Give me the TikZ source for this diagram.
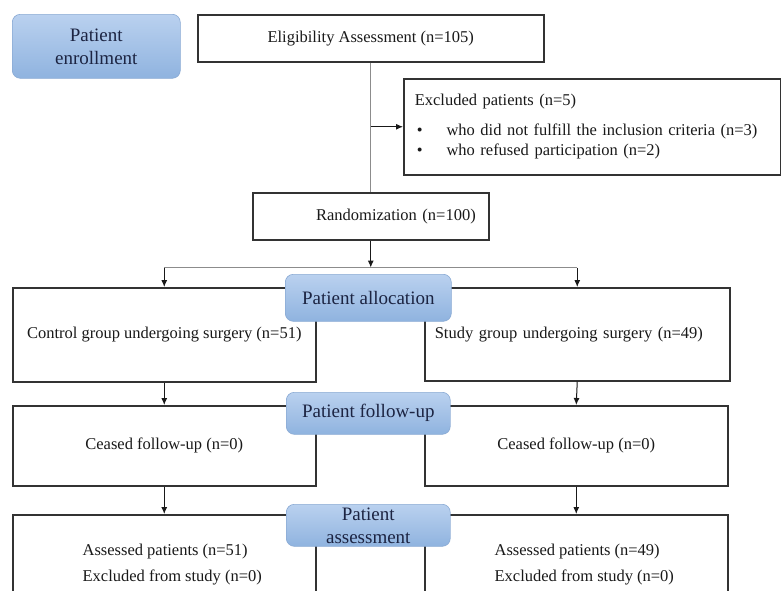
\documentclass[tikz,border=0pt]{standalone}
\usepackage{fontspec}
\setmainfont{Liberation Serif}
\usepackage{xcolor}
\definecolor{phasetop}{HTML}{BAD1EF}
\definecolor{phasebottom}{HTML}{8FB3DF}
\definecolor{phaseedge}{HTML}{8AAAD4}
\definecolor{phasetext}{HTML}{1C2442}
\definecolor{boxedge}{HTML}{333333}
\definecolor{linkgray}{HTML}{8C8C8C}
\usetikzlibrary{shapes,arrows.meta,positioning,calc}
\tikzstyle{block} = [rectangle, draw=boxedge, line width=1.5pt, fill=white,
text=black!90, anchor=north west, inner sep=0pt, align=center]
\tikzstyle{phase} = [rectangle, rounded corners=8pt, draw=phaseedge, line width=0.6pt,
top color=phasetop, bottom color=phasebottom, text=phasetext, anchor=north west,
inner sep=0pt, align=center, font=\fontsize{19}{23}\selectfont]
\tikzstyle{line} = [draw, black!90, line width=1pt, -{Latex[length=7pt, width=6pt]}]
\tikzstyle{grayline} = [draw, linkgray, line width=1pt]

\begin{document}
\begin{tikzpicture}[x=1pt, y=-1pt, font=\fontsize{16.5}{20}\selectfont]
    \useasboundingbox (0,0) rectangle (781,590);
    \clip (0,0) rectangle (781,590);

    % Boxes
    \node [block, minimum width=346pt, minimum height=47pt] (elig) at (197,14) {Eligibility Assessment (n=105)};
    \node [block, minimum width=377pt, minimum height=96pt, text width=355pt, inner xsep=11pt, align=left] (excluded) at (403,78)
        {Excluded patients (n=5)\\[10pt]
         \hspace*{2pt}\textbullet\hspace{24pt}who did not fulfill the inclusion criteria (n=3)\\
         \hspace*{2pt}\textbullet\hspace{24pt}who refused participation (n=2)};
    \node [block, minimum width=236pt, minimum height=47pt, text width=210pt, inner xsep=13pt, align=right] (random) at (252,192) {Randomization (n=100)};

    \node [block, minimum width=303pt, minimum height=94pt] (control) at (12,287) {Control group undergoing surgery (n=51)};
    \node [block, minimum width=305pt, minimum height=93pt, text width=285pt, inner xsep=10pt, align=left] (study) at (424,287) {Study group undergoing surgery (n=49)};

    \node [block, minimum width=303pt, minimum height=80pt] (ceasedL) at (12,405) {Ceased follow-up (n=0)};
    \node [block, minimum width=303pt, minimum height=80pt] (ceasedR) at (424,405) {Ceased follow-up (n=0)};

    \node [block, minimum width=303pt, inner ysep=27pt] (assessL) at (12,514)
        {\begin{tabular}{@{\hspace{16pt}}l@{}}Assessed patients (n=51)\\[6pt] Excluded from study (n=0)\end{tabular}};
    \node [block, minimum width=303pt, inner ysep=27pt] (assessR) at (424,514)
        {\begin{tabular}{@{\hspace{16pt}}l@{}}Assessed patients (n=49)\\[6pt] Excluded from study (n=0)\end{tabular}};

    % Connectors
    \draw [grayline] (elig.south) -- (random.north);
    \draw [line] (elig.south |- excluded.west) -- (excluded.west);
    \coordinate (split) at ($(random.south)+(0,27)$);
    \draw [grayline] (split -| control.north) -- (split -| study.north);
    \draw [line] (random.south) -- (split);
    \draw [line] (split -| control.north) -- (control.north);
    \draw [line] (split -| study.north) -- (study.north);
    \draw [line] (control.south) -- (ceasedL.north);
    \draw [line] (study.south) -- (ceasedR.north);
    \draw [line] (ceasedL.south) -- (assessL.north);
    \draw [line] (ceasedR.south) -- (assessR.north);

    % Phases
    \node [phase, minimum width=168pt, minimum height=64pt] (enroll) at (12,14) {Patient\\enrollment};
    \node [phase, minimum width=166pt, minimum height=47pt] (allocation) at (285,274) {Patient allocation};
    \node [phase, minimum width=164pt, minimum height=42pt] (followup) at (286,392) {Patient follow-up};
    \node [phase, minimum width=164pt, minimum height=42pt] (assessment) at (286,504) {Patient\\assessment};
\end{tikzpicture}
\end{document}
